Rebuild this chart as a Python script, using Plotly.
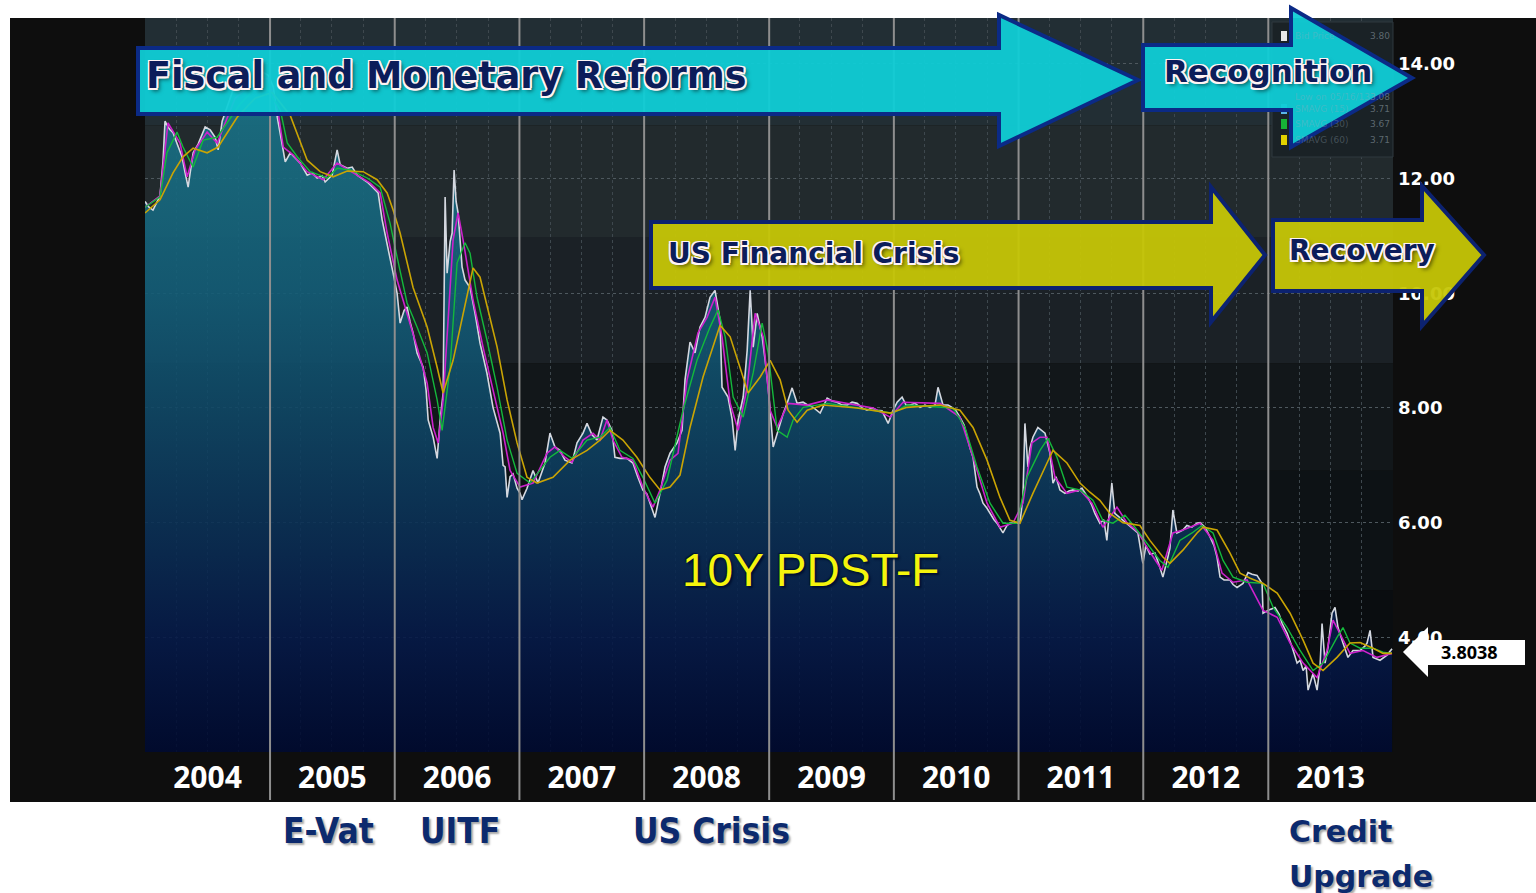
import plotly.graph_objects as go
import pandas as pd

# ---------------- data ----------------
# time as decimal years, values in percent
price_t = [2004.000, 2004.032, 2004.064, 2004.096, 2004.120, 2004.144, 2004.160, 2004.184, 2004.200, 2004.224,
           2004.264, 2004.296, 2004.321, 2004.345, 2004.361, 2004.385, 2004.425, 2004.481, 2004.521, 2004.561,
           2004.585, 2004.617, 2004.665, 2004.705, 2004.761, 2004.817, 2004.881, 2004.938, 2004.986, 2005.026,
           2005.058, 2005.082, 2005.098, 2005.122, 2005.162, 2005.202, 2005.242, 2005.298, 2005.338, 2005.378,
           2005.418, 2005.442, 2005.498, 2005.538, 2005.563, 2005.619, 2005.659, 2005.699, 2005.739, 2005.779,
           2005.827, 2005.867, 2005.899, 2005.939, 2005.987, 2006.019, 2006.043, 2006.075, 2006.099, 2006.123,
           2006.147, 2006.179, 2006.228, 2006.252, 2006.268, 2006.308, 2006.340, 2006.364, 2006.388, 2006.404,
           2006.420, 2006.444, 2006.460, 2006.476, 2006.492, 2006.508, 2006.540, 2006.564, 2006.604, 2006.644,
           2006.684, 2006.740, 2006.788, 2006.845, 2006.869, 2006.885, 2006.901, 2006.925, 2006.949, 2006.981,
           2007.005, 2007.021, 2007.061, 2007.109, 2007.149, 2007.205, 2007.245, 2007.285, 2007.325, 2007.365,
           2007.421, 2007.462, 2007.510, 2007.542, 2007.582, 2007.622, 2007.670, 2007.702, 2007.742, 2007.766,
           2007.806, 2007.862, 2007.910, 2007.950, 2007.990, 2008.022, 2008.046, 2008.087, 2008.127, 2008.167,
           2008.207, 2008.263, 2008.303, 2008.327, 2008.367, 2008.407, 2008.447, 2008.487, 2008.527, 2008.567,
           2008.607, 2008.623, 2008.671, 2008.704, 2008.728, 2008.752, 2008.792, 2008.824, 2008.848, 2008.872,
           2008.904, 2008.944, 2008.968, 2008.992, 2009.032, 2009.072, 2009.112, 2009.144, 2009.184, 2009.224,
           2009.272, 2009.312, 2009.353, 2009.409, 2009.465, 2009.505, 2009.545, 2009.585, 2009.625, 2009.665,
           2009.705, 2009.745, 2009.785, 2009.825, 2009.865, 2009.905, 2009.954, 2009.994, 2010.026, 2010.066,
           2010.098, 2010.130, 2010.170, 2010.210, 2010.250, 2010.290, 2010.330, 2010.354, 2010.394, 2010.434,
           2010.466, 2010.498, 2010.530, 2010.563, 2010.587, 2010.611, 2010.635, 2010.667, 2010.691, 2010.715,
           2010.747, 2010.771, 2010.803, 2010.827, 2010.851, 2010.875, 2010.907, 2010.931, 2010.963, 2010.987,
           2011.011, 2011.035, 2011.051, 2011.075, 2011.091, 2011.115, 2011.155, 2011.188, 2011.212, 2011.252,
           2011.276, 2011.300, 2011.332, 2011.372, 2011.404, 2011.436, 2011.476, 2011.508, 2011.556, 2011.588,
           2011.612, 2011.652, 2011.684, 2011.708, 2011.732, 2011.748, 2011.772, 2011.812, 2011.869, 2011.917,
           2011.957, 2011.997, 2012.021, 2012.053, 2012.093, 2012.133, 2012.157, 2012.197, 2012.213, 2012.237,
           2012.269, 2012.317, 2012.349, 2012.389, 2012.429, 2012.454, 2012.494, 2012.534, 2012.566, 2012.590,
           2012.614, 2012.646, 2012.694, 2012.718, 2012.750, 2012.798, 2012.838, 2012.870, 2012.910, 2012.950,
           2012.958, 2012.998, 2013.054, 2013.087, 2013.111, 2013.151, 2013.191, 2013.231, 2013.255, 2013.279,
           2013.303, 2013.319, 2013.359, 2013.391, 2013.415, 2013.431, 2013.455, 2013.479, 2013.511, 2013.535,
           2013.559, 2013.599, 2013.639, 2013.679, 2013.736, 2013.776, 2013.792, 2013.816, 2013.840, 2013.896,
           2013.952, 2013.992]
price_v = [11.6, 11.5, 11.45, 11.6, 11.7, 12.3, 13.0, 12.9, 12.85, 12.8,
           12.55, 12.38, 12.1, 11.85, 12.1, 12.45, 12.6, 12.9, 12.85, 12.72,
           12.5, 13.0, 13.3, 13.55, 13.5, 13.6, 13.75, 13.86, 13.8, 13.6,
           13.07, 12.8, 12.62, 12.29, 12.45, 12.35, 12.27, 12.06, 12.1, 12.01,
           12.05, 11.94, 12.06, 12.5, 12.24, 12.18, 12.2, 12.06, 12.0, 11.94,
           11.84, 11.75, 11.28, 10.88, 10.35, 10.0, 9.48, 9.7, 9.76, 9.5,
           9.31, 8.96, 8.71, 8.3, 7.79, 7.49, 7.12, 7.79, 8.26, 11.68,
           10.35, 10.9, 11.05, 12.15, 11.6, 11.4, 10.46, 10.23, 10.1, 9.65,
           9.13, 8.6, 8.01, 7.56, 7.0, 6.97, 6.44, 6.8, 6.85, 6.6,
           6.51, 6.4, 6.6, 6.91, 6.69, 7.04, 7.56, 7.32, 7.26, 7.09,
           7.04, 7.39, 7.56, 7.73, 7.53, 7.44, 7.84, 7.79, 7.61, 7.14,
           7.12, 7.12, 7.04, 6.79, 6.57, 6.5, 6.34, 6.09, 6.51, 6.97,
           7.21, 7.39, 7.61, 8.49, 9.15, 8.96, 9.41, 9.58, 9.93, 10.05,
           9.53, 8.36, 8.19, 7.8, 7.26, 7.79, 8.19, 9.0, 10.05, 9.06,
           9.65, 9.24, 8.83, 8.36, 7.32, 7.61, 7.9, 8.08, 8.35, 8.08,
           8.1, 8.05, 8.01, 7.91, 8.17, 8.12, 8.1, 8.05, 8.05, 8.1,
           8.08, 8.0, 7.96, 8.0, 7.96, 7.95, 7.73, 7.96, 8.1, 8.19,
           8.05, 8.05, 8.08, 8.01, 8.05, 8.01, 8.05, 8.36, 8.05, 8.05,
           8.01, 7.95, 7.84, 7.7, 7.49, 7.3, 7.14, 6.62, 6.5, 6.34,
           6.25, 6.16, 6.05, 5.99, 5.9, 5.82, 5.95, 5.99, 6.0, 5.99,
           6.0, 6.44, 7.73, 6.97, 7.3, 7.49, 7.66, 7.6, 7.56, 7.21,
           6.69, 6.8, 6.57, 6.51, 6.55, 6.57, 6.55, 6.6, 6.44, 6.3,
           6.16, 5.99, 6.05, 5.69, 6.22, 6.69, 6.16, 6.09, 5.99, 5.9,
           5.82, 5.29, 5.6, 5.45, 5.47, 5.22, 5.05, 5.4, 5.55, 6.22,
           5.82, 5.87, 5.95, 5.92, 5.99, 6.0, 5.92, 5.75, 5.6, 5.4,
           5.05, 5.0, 5.0, 4.92, 4.87, 4.94, 5.13, 5.1, 5.08, 4.94,
           4.42, 4.47, 4.52, 4.4, 4.24, 4.07, 3.83, 3.55, 3.6, 3.42,
           3.5, 3.08, 3.37, 3.08, 3.5, 4.24, 3.55, 3.83, 4.42, 4.52,
           4.17, 3.9, 3.65, 3.77, 3.77, 3.85, 3.9, 4.12, 3.65, 3.6,
           3.69, 3.80]

# short moving average (magenta)
ma_fast_t = [2004.000, 2004.120, 2004.184, 2004.280, 2004.337, 2004.401, 2004.497, 2004.577, 2004.721, 2004.881,
             2004.986, 2005.066, 2005.106, 2005.186, 2005.298, 2005.426, 2005.538, 2005.667, 2005.803, 2005.883,
             2005.939, 2006.019, 2006.099, 2006.179, 2006.260, 2006.308, 2006.348, 2006.388, 2006.468, 2006.508,
             2006.548, 2006.628, 2006.708, 2006.788, 2006.869, 2006.925, 2007.005, 2007.109, 2007.221, 2007.285,
             2007.365, 2007.422, 2007.510, 2007.590, 2007.646, 2007.702, 2007.750, 2007.822, 2007.910, 2007.990,
             2008.071, 2008.127, 2008.207, 2008.271, 2008.343, 2008.431, 2008.503, 2008.567, 2008.623, 2008.688,
             2008.752, 2008.824, 2008.888, 2008.952, 2009.008, 2009.064, 2009.152, 2009.305, 2009.465, 2009.834,
             2009.970, 2010.074, 2010.370, 2010.530, 2010.635, 2010.747, 2010.851, 2010.955, 2011.035, 2011.107,
             2011.172, 2011.228, 2011.292, 2011.388, 2011.492, 2011.588, 2011.676, 2011.789, 2011.869, 2011.957,
             2012.029, 2012.149, 2012.237, 2012.317, 2012.454, 2012.558, 2012.630, 2012.718, 2012.830, 2012.958,
             2013.071, 2013.175, 2013.279, 2013.391, 2013.471, 2013.519, 2013.575, 2013.655, 2013.760, 2013.872,
             2013.992]
ma_fast_v = [11.5, 11.7, 12.97, 12.62, 12.03, 12.5, 12.81, 12.62, 13.4, 13.7,
             13.75, 13.14, 12.55, 12.41, 12.12, 11.98, 12.27, 12.1, 11.92, 11.75,
             11.05, 10.23, 9.65, 9.06, 8.43, 7.66, 7.39, 8.14, 10.93, 11.4,
             10.93, 9.88, 9.06, 8.31, 7.56, 6.91, 6.62, 6.69, 7.21, 7.32,
             7.14, 7.05, 7.44, 7.56, 7.44, 7.79, 7.44, 7.14, 7.09, 6.62,
             6.27, 6.57, 7.09, 7.21, 8.49, 9.31, 9.58, 9.93, 9.24, 8.08,
             7.61, 8.36, 9.65, 9.24, 7.96, 7.66, 8.08, 8.05, 8.14, 8.0,
             7.84, 8.1, 8.08, 7.84, 7.14, 6.34, 5.92, 5.99, 6.34, 7.39,
             7.49, 7.49, 6.79, 6.51, 6.57, 6.34, 5.92, 6.27, 6.0, 5.84,
             5.57, 5.17, 5.82, 5.87, 5.99, 5.69, 5.12, 4.96, 5.0, 4.47,
             4.35, 3.9, 3.55, 3.3, 3.77, 4.3, 4.07, 3.72, 3.77, 3.65,
             3.72]

# SMAVG (15) (green)
ma15_t = [2004.000, 2004.120, 2004.176, 2004.256, 2004.304, 2004.385, 2004.465, 2004.577, 2004.761, 2004.938,
          2005.082, 2005.138, 2005.218, 2005.322, 2005.458, 2005.538, 2005.643, 2005.779, 2005.883, 2005.963,
          2006.019, 2006.099, 2006.179, 2006.260, 2006.340, 2006.380, 2006.444, 2006.500, 2006.564, 2006.604,
          2006.660, 2006.740, 2006.821, 2006.901, 2006.981, 2007.085, 2007.245, 2007.325, 2007.422, 2007.542,
          2007.646, 2007.726, 2007.806, 2007.910, 2007.990, 2008.087, 2008.183, 2008.311, 2008.423, 2008.527,
          2008.591, 2008.648, 2008.712, 2008.792, 2008.872, 2008.944, 2008.992, 2009.064, 2009.144, 2009.192,
          2009.273, 2009.465, 2009.834, 2009.994, 2010.106, 2010.474, 2010.571, 2010.667, 2010.771, 2010.875,
          2010.987, 2011.067, 2011.172, 2011.236, 2011.308, 2011.388, 2011.492, 2011.596, 2011.676, 2011.757,
          2011.853, 2011.933, 2012.029, 2012.133, 2012.197, 2012.293, 2012.390, 2012.470, 2012.558, 2012.638,
          2012.718, 2012.830, 2012.958, 2013.039, 2013.151, 2013.255, 2013.359, 2013.439, 2013.551, 2013.599,
          2013.655, 2013.736, 2013.840, 2013.920, 2013.992]
ma15_v = [11.5, 11.68, 12.45, 12.81, 12.55, 12.2, 12.67, 12.72, 13.3, 13.7,
          13.2, 12.62, 12.38, 12.12, 12.01, 12.18, 12.15, 12.01, 11.85, 11.22,
          10.63, 9.83, 9.41, 8.96, 8.14, 7.61, 8.71, 10.53, 10.88, 10.7,
          9.93, 9.18, 8.36, 7.44, 6.86, 6.69, 7.14, 7.26, 7.12, 7.44,
          7.49, 7.66, 7.26, 7.12, 6.79, 6.34, 6.74, 7.96, 8.83, 9.41,
          9.71, 9.24, 8.19, 7.84, 8.61, 9.48, 8.96, 7.61, 7.49, 7.79,
          8.01, 8.08, 7.96, 7.91, 8.05, 8.0, 7.66, 6.97, 6.34, 5.99,
          5.99, 6.79, 7.26, 7.47, 7.14, 6.62, 6.57, 6.39, 6.04, 5.99,
          6.13, 5.92, 5.64, 5.34, 5.22, 5.69, 5.82, 5.95, 5.82, 5.34,
          5.05, 4.96, 4.94, 4.52, 4.17, 3.77, 3.42, 3.55, 4.0, 4.17,
          3.9, 3.81, 3.81, 3.74, 3.72]

# SMAVG (60) (yellow)
ma60_t = [2004.000, 2004.120, 2004.224, 2004.304, 2004.385, 2004.497, 2004.585, 2004.737, 2004.881, 2005.018,
          2005.162, 2005.242, 2005.298, 2005.402, 2005.506, 2005.619, 2005.747, 2005.859, 2005.939, 2005.987,
          2006.043, 2006.147, 2006.260, 2006.340, 2006.388, 2006.468, 2006.548, 2006.628, 2006.684, 2006.740,
          2006.821, 2006.901, 2006.981, 2007.061, 2007.141, 2007.269, 2007.406, 2007.542, 2007.646, 2007.726,
          2007.830, 2007.942, 2008.046, 2008.127, 2008.207, 2008.287, 2008.367, 2008.471, 2008.607, 2008.688,
          2008.768, 2008.832, 2008.928, 2009.008, 2009.088, 2009.152, 2009.224, 2009.305, 2009.433, 2009.705,
          2009.970, 2010.106, 2010.370, 2010.530, 2010.635, 2010.747, 2010.851, 2010.931, 2011.011, 2011.115,
          2011.228, 2011.276, 2011.388, 2011.492, 2011.572, 2011.652, 2011.732, 2011.837, 2011.973, 2012.053,
          2012.157, 2012.213, 2012.317, 2012.430, 2012.478, 2012.590, 2012.694, 2012.774, 2012.855, 2012.958,
          2013.071, 2013.175, 2013.279, 2013.359, 2013.439, 2013.551, 2013.655, 2013.736, 2013.840, 2013.920,
          2013.992]
ma60_v = [11.4, 11.63, 12.1, 12.38, 12.53, 12.45, 12.55, 13.07, 13.4, 13.5,
          13.1, 12.62, 12.32, 12.12, 12.03, 12.13, 12.12, 11.98, 11.75, 11.45,
          11.05, 10.1, 9.41, 8.71, 8.26, 8.83, 9.65, 10.44, 10.28, 9.76,
          9.06, 8.14, 7.39, 6.79, 6.69, 6.79, 7.09, 7.26, 7.44, 7.61,
          7.44, 7.14, 6.79, 6.57, 6.62, 6.83, 7.66, 8.54, 9.44, 9.24,
          8.71, 8.26, 8.54, 8.83, 8.49, 7.96, 7.75, 7.96, 8.05, 8.0,
          7.91, 8.01, 8.05, 7.96, 7.66, 7.09, 6.44, 6.04, 5.99, 6.51,
          7.04, 7.26, 7.04, 6.69, 6.53, 6.39, 6.16, 6.0, 5.95, 5.69,
          5.4, 5.29, 5.52, 5.82, 5.92, 5.87, 5.47, 5.12, 5.03, 4.94,
          4.77, 4.42, 3.95, 3.55, 3.42, 3.65, 3.9, 3.91, 3.81, 3.72,
          3.72]

y_tickvals = [2, 4, 6, 8, 10, 12, 14]
y_ticktext = ["", "4.00", "6.00", "8.00", "10.00", "12.00", "14.00"]
year_starts = ["2005-01-01", "2006-01-01", "2007-01-01", "2008-01-01", "2009-01-01",
               "2010-01-01", "2011-01-01", "2012-01-01", "2013-01-01"]
x_range = ["2004-01-01", "2014-01-01"]
y_range = [2.0, 14.8]
last_price = "3.8038"
# legend rows that are not hidden behind the "Recognition" label
legend_rows = ["Bid Price", "Low on 05/16/13", "SMAVG (15)", "SMAVG (30)", "SMAVG (60)"]
legend_vals = ["3.80", "3.08", "3.71", "3.67", "3.71"]
legend_swatch = ["#e8e8e8", None, "#5ab4e6", "#16b436", "#e2d200"]


def to_dates(ts):
    out = []
    for t in ts:
        y = int(t)
        a = pd.Timestamp(year=y, month=1, day=1)
        b = pd.Timestamp(year=y + 1, month=1, day=1)
        out.append(a + (b - a) * (t - y))
    return out


# ---------------- figure ----------------
W, H = 1536, 893
PL, PR, PT, PB = 145, 1393, 18, 752


def px(x):
    return (x - PL) / (PR - PL)


def py(y):
    return (PB - y) / (PB - PT)


def poly(points):
    return "M " + " L ".join(f"{px(a):.5f},{py(b):.5f}" for a, b in points) + " Z"


fig = go.Figure()

fill_scale = [[0.0, "rgba(0,10,48,0.9)"], [0.156, "rgba(6,26,72,0.9)"], [0.3125, "rgba(11,49,86,0.9)"],
              [0.469, "rgba(15,72,102,0.9)"], [0.625, "rgba(19,93,119,0.9)"], [0.781, "rgba(23,106,128,0.9)"],
              [1.0, "rgba(28,122,140,0.9)"]]

fig.add_trace(go.Scatter(x=to_dates(price_t), y=price_v, mode="lines", line=dict(width=0),
                         fill="tozeroy",
                         fillgradient=dict(type="vertical", start=y_range[0], stop=y_range[1],
                                           colorscale=fill_scale),
                         hoverinfo="skip"))
fig.add_trace(go.Scatter(x=to_dates(price_t), y=price_v, mode="lines",
                         line=dict(color="#d4d8e0", width=1.6), hoverinfo="skip"))
fig.add_trace(go.Scatter(x=to_dates(ma_fast_t), y=ma_fast_v, mode="lines",
                         line=dict(color="#cc22cc", width=1.6), hoverinfo="skip"))
fig.add_trace(go.Scatter(x=to_dates(ma15_t), y=ma15_v, mode="lines",
                         line=dict(color="#14b83c", width=1.4), hoverinfo="skip"))
fig.add_trace(go.Scatter(x=to_dates(ma60_t), y=ma60_v, mode="lines",
                         line=dict(color="#caa404", width=1.6), hoverinfo="skip"))

shapes = []
# black frame behind the chart
shapes.append(dict(type="rect", xref="paper", yref="paper", x0=px(10), x1=px(W), y0=py(802), y1=py(18),
                   fillcolor="#0e0e0e", line=dict(width=0), layer="below"))
# banded background of the plotting area
bands = [(12.93, 14.8, "#222e34"), (10.98, 12.93, "#222a2d"), (8.78, 10.98, "#1b2126"),
         (6.91, 8.78, "#12171a"), (4.82, 6.91, "#0d1215"), (2.0, 4.82, "#0a0d10")]
for lo, hi, c in bands:
    shapes.append(dict(type="rect", xref="paper", yref="y", x0=0, x1=1, y0=lo, y1=hi,
                       fillcolor=c, line=dict(width=0), layer="below"))
# year separators
for d in year_starts:
    shapes.append(dict(type="line", xref="x", yref="paper", x0=d, x1=d, y0=py(800), y1=1,
                       line=dict(color="#8e8e8e", width=2), layer="above"))
# legend box (mostly hidden)
shapes.append(dict(type="rect", xref="paper", yref="paper", x0=px(1272), x1=px(1393), y0=py(157), y1=py(22),
                   fillcolor="#1a2226", line=dict(color="#2e383e", width=1), layer="above"))
legend_y = [36, 97, 109, 124, 140]
for yy, sw in zip(legend_y, legend_swatch):
    if sw:
        shapes.append(dict(type="rect", xref="paper", yref="paper", x0=px(1281), x1=px(1287),
                           y0=py(yy + 5), y1=py(yy - 5), fillcolor=sw, line=dict(width=0), layer="above"))

cyan_fill = "rgba(16,206,214,0.95)"
olive_fill = "rgba(198,198,6,0.95)"
navy = "#0b2a86"
shapes.append(dict(type="path", xref="paper", yref="paper",
                   path=poly([(138, 48), (999, 48), (999, 15), (1138, 80), (999, 146), (999, 114), (138, 114)]),
                   fillcolor=cyan_fill, line=dict(color=navy, width=4), layer="above"))
shapes.append(dict(type="path", xref="paper", yref="paper",
                   path=poly([(1143, 45), (1291, 45), (1291, 8), (1412, 78), (1291, 147), (1291, 110), (1143, 110)]),
                   fillcolor=cyan_fill, line=dict(color=navy, width=4), layer="above"))
shapes.append(dict(type="path", xref="paper", yref="paper",
                   path=poly([(651, 222), (1211, 222), (1211, 187), (1265, 255), (1211, 322), (1211, 288), (651, 288)]),
                   fillcolor=olive_fill, line=dict(color="#0c2270", width=4), layer="above"))
shapes.append(dict(type="path", xref="paper", yref="paper",
                   path=poly([(1273, 220), (1422, 220), (1422, 186), (1484, 255), (1422, 326), (1422, 291), (1273, 291)]),
                   fillcolor=olive_fill, line=dict(color="#0c2270", width=4), layer="above"))
# last price tag
shapes.append(dict(type="path", xref="paper", yref="paper",
                   path=poly([(1403, 652), (1428, 627), (1428, 640), (1525, 640), (1525, 665), (1428, 665), (1428, 677)]),
                   fillcolor="white", line=dict(width=0), layer="above"))

outline = ("-1.5px -1.5px 0 #fff4f4, 1.5px -1.5px 0 #fff4f4, -1.5px 1.5px 0 #fff4f4, "
           "1.5px 1.5px 0 #fff4f4, 0 2px 0 #fff4f4, 2px 0 0 #fff4f4, 3px 3px 4px rgba(0,0,0,0.6)")
navy_txt = "#0c1d5a"

ann = []


def add_text(text, x, y, size, color, family, weight="bold", xanchor="center", shadow="none"):
    ann.append(dict(text=text, x=px(x), y=py(y), xref="paper", yref="paper", showarrow=False,
                    xanchor=xanchor, yanchor="middle",
                    font=dict(family=family, size=size, color=color, weight=weight, shadow=shadow)))


for lab, val, yy in zip(legend_rows, legend_vals, legend_y):
    add_text(lab, 1293, yy, 9, "rgba(150,170,185,0.35)", "DejaVu Sans", weight="normal", xanchor="left")
    add_text(val, 1392, yy, 9, "rgba(150,165,175,0.55)", "DejaVu Sans", weight="normal", xanchor="right")

add_text("Fiscal and Monetary Reforms", 446, 76, 36.5, navy_txt, "DejaVu Sans", shadow=outline)
add_text("Recognition", 1268, 71, 31, navy_txt, "DejaVu Sans", shadow=outline)
add_text("US Financial Crisis", 813, 253, 28, navy_txt, "DejaVu Sans", shadow=outline)
add_text("Recovery", 1362, 250, 28, navy_txt, "DejaVu Sans", shadow=outline)
add_text("10Y PDST-F", 810, 570, 46, "#f4f40c", "Liberation Sans", weight="normal",
         shadow="2px 2px 2px #001030, -1px -1px 1px #001030")
add_text(last_price, 1470, 652, 18, "#000000", "Open Sans")

narrow_font = "Liberation Sans Narrow, DejaVu Sans Condensed, Arial Narrow, sans-serif"
bshadow = "2px 2px 2px rgba(0,0,0,0.35)"
add_text("E-Vat", 328, 831, 35, "#0c2a6e", narrow_font, shadow=bshadow)
add_text("UITF", 460, 831, 35, "#0c2a6e", narrow_font, shadow=bshadow)
add_text("US Crisis", 711, 831, 35, "#0c2a6e", narrow_font, shadow=bshadow)
add_text("Credit", 1287, 831, 30, "#0c2a6e", "DejaVu Sans", xanchor="left", shadow=bshadow)
add_text("Upgrade", 1287, 876, 30, "#0c2a6e", "DejaVu Sans", xanchor="left", shadow=bshadow)

fig.update_layout(
    width=W, height=H,
    margin=dict(l=PL, r=W - PR, t=PT, b=H - PB, pad=0),
    paper_bgcolor="white", plot_bgcolor="rgba(0,0,0,0)",
    showlegend=False,
    shapes=shapes, annotations=ann,
    xaxis=dict(type="date", range=x_range, dtick="M12", tick0="2004-01-01",
               ticklabelmode="period", tickformat="%Y", showgrid=False, ticks="",
               ticklabelstandoff=5,
               tickfont=dict(family="Open Sans", size=30, color="white", weight="bold"),
               minor=dict(dtick="M3", showgrid=True, gridcolor="#3e484e", griddash="dot", gridwidth=1),
               zeroline=False, showline=False, fixedrange=True),
    yaxis=dict(side="right", range=y_range, tickvals=y_tickvals, ticktext=y_ticktext,
               showgrid=True, gridcolor="#4e585e", griddash="dot", gridwidth=1,
               zeroline=False, showline=False, ticks="", ticklabelstandoff=4,
               tickfont=dict(family="DejaVu Sans", size=18, color="white", weight="bold"),
               fixedrange=True),
)

fig.write_html("out.html", config={"displayModeBar": False},
               post_script="document.body.style.margin='0';document.body.style.overflow='hidden';")
